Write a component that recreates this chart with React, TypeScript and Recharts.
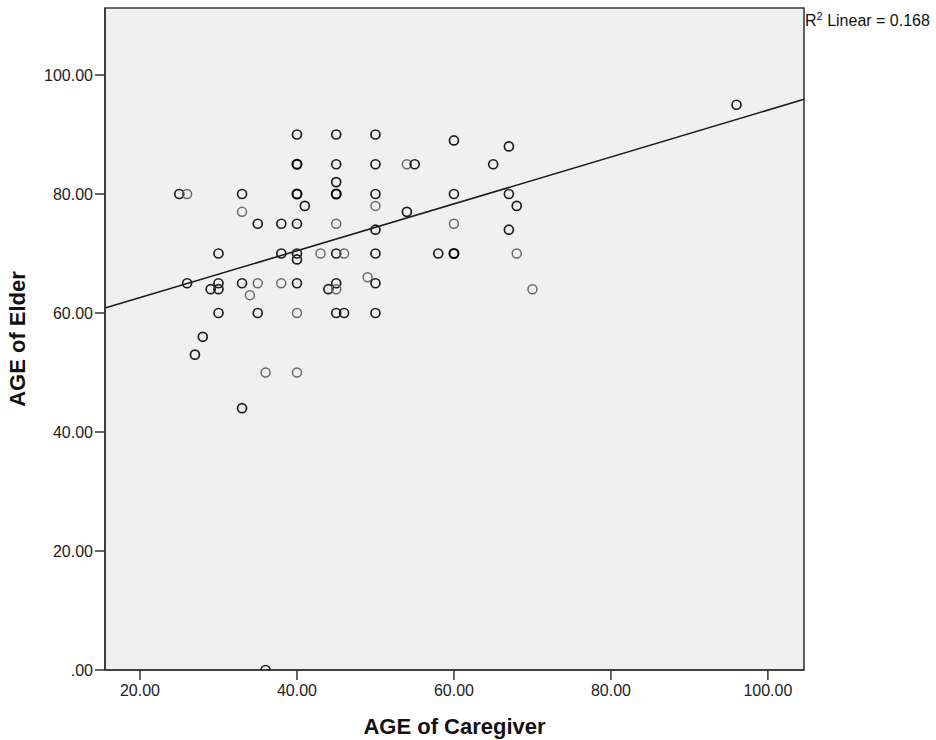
import React from 'react';
import {
  ScatterChart,
  Scatter,
  XAxis,
  YAxis,
  CartesianGrid,
  ReferenceLine,
  ReferenceArea,
  Label,
} from 'recharts';

// Age of caregiver (x) for each plotted marker
const caregiverAge = [
  25, 26, 26, 27, 28, 29, 30, 30, 30, 30,
  33, 33, 33, 33, 34, 35, 35, 35, 36, 36,
  38, 38, 38, 40, 40, 40, 40, 40, 40, 40,
  40, 40, 41, 43, 44, 45, 45, 45, 45, 45,
  45, 45, 45, 45, 46, 46, 49, 50, 50, 50,
  50, 50, 50, 50, 50, 54, 55, 54, 58, 60,
  60, 60, 60, 65, 67, 67, 67, 68, 68, 70,
  96,
];

// Age of elder (y) for each plotted marker
const elderAge = [
  80, 80, 65, 53, 56, 64, 70, 65, 64, 60,
  80, 77, 65, 44, 63, 75, 65, 60, 50, 0,
  75, 70, 65, 90, 85, 80, 75, 70, 69, 65,
  60, 50, 78, 70, 64, 90, 85, 82, 80, 75,
  70, 65, 64, 60, 70, 60, 66, 90, 85, 80,
  78, 74, 70, 65, 60, 85, 85, 77, 70, 89,
  80, 75, 70, 85, 88, 80, 74, 78, 70, 64,
  95,
];

// Number of cases drawn on top of each other at that marker
const overlapCount = [
  2, 1, 2, 2, 2, 2, 2, 2, 2, 2,
  2, 1, 2, 2, 1, 2, 1, 2, 1, 2,
  2, 2, 1, 2, 3, 3, 2, 2, 2, 2,
  1, 1, 2, 1, 2, 2, 2, 2, 3, 1,
  2, 2, 1, 2, 1, 2, 1, 2, 2, 2,
  1, 2, 2, 2, 2, 1, 2, 2, 2, 2,
  2, 1, 3, 2, 2, 2, 2, 2, 1, 1,
  2,
];

const xTicks = [20, 40, 60, 80, 100];
const yTicks = [0, 20, 40, 60, 80, 100];

const X_DOMAIN: [number, number] = [15.54, 104.6];
const Y_DOMAIN: [number, number] = [0, 111.26];

// Fitted linear regression
const REG_INTERCEPT = 54.7;
const REG_SLOPE = 0.394;
const R2_TEXT = '0.168';

const points = caregiverAge.map((x, i) => ({ x, y: elderAge[i], n: overlapCount[i] }));

const FONT = '"Liberation Sans", Arial, sans-serif';

// layout
const W = 936;
const H = 740;
const MARGIN = { top: 8, right: 132, bottom: 0, left: 0 };
const Y_AXIS_W = 105;
const X_AXIS_H = 70;
const PLOT = {
  x: MARGIN.left + Y_AXIS_W,
  y: MARGIN.top,
  w: W - MARGIN.left - MARGIN.right - Y_AXIS_W,
  h: H - MARGIN.top - MARGIN.bottom - X_AXIS_H,
};

const fmt = (v: number) => (v === 0 ? '.00' : v.toFixed(2));

const Ring = (props: any) => {
  const { cx, cy, payload } = props;
  if (cx == null || cy == null) return null;
  const n = payload?.n ?? 1;
  const stroke = n >= 3 ? '#000000' : n === 2 ? '#1e1e1e' : '#6a6a6a';
  const sw = n >= 3 ? 2 : n === 2 ? 1.7 : 1.5;
  return (
    <circle
      cx={cx}
      cy={cy}
      r={4.5}
      fill="none"
      stroke={stroke}
      strokeWidth={sw}
      clipPath="url(#plotAreaClip)"
    />
  );
};

const XTitle = (props: any) => {
  const vb = props.viewBox || {};
  const x = (vb.x ?? PLOT.x) + (vb.width ?? PLOT.w) / 2;
  return (
    <text x={x} y={734} textAnchor="middle" fontFamily={FONT} fontSize={22} fontWeight="bold" fill="#111">
      AGE of Caregiver
    </text>
  );
};

const YTitle = () => {
  const x = 25;
  const y = PLOT.y + PLOT.h / 2;
  return (
    <text
      x={x}
      y={y}
      transform={`rotate(-90 ${x} ${y})`}
      textAnchor="middle"
      fontFamily={FONT}
      fontSize={22}
      fontWeight="bold"
      fill="#111"
    >
      AGE of Elder
    </text>
  );
};

export default function App() {
  const x0 = X_DOMAIN[0];
  const x1 = X_DOMAIN[1];
  return (
    <div style={{ position: 'absolute', left: 0, top: 0, width: W, height: H, background: '#fff' }}>
      <svg width={0} height={0} style={{ position: 'absolute' }}>
        <defs>
          <clipPath id="plotAreaClip">
            <rect x={PLOT.x} y={PLOT.y} width={PLOT.w} height={PLOT.h} />
          </clipPath>
        </defs>
      </svg>
      <ScatterChart width={W} height={H} margin={MARGIN}>
        <CartesianGrid horizontal={false} vertical={false} fill="#f0f0f0" />
        <XAxis
          type="number"
          dataKey="x"
          domain={X_DOMAIN}
          ticks={xTicks}
          tickFormatter={fmt}
          allowDataOverflow
          height={X_AXIS_H}
          tickSize={10}
          tickMargin={5}
          stroke="#333"
          strokeWidth={1.5}
          tick={{ fill: '#222', fontSize: 16, fontFamily: FONT }}
        >
          <Label content={XTitle} />
        </XAxis>
        <YAxis
          type="number"
          dataKey="y"
          domain={Y_DOMAIN}
          ticks={yTicks}
          tickFormatter={fmt}
          allowDataOverflow
          width={Y_AXIS_W}
          tickSize={10}
          tickMargin={2}
          stroke="#333"
          strokeWidth={1.5}
          tick={{ fill: '#222', fontSize: 16, fontFamily: FONT }}
        >
          <Label content={YTitle} />
        </YAxis>
        <ReferenceArea
          x1={x0}
          x2={x1}
          y1={Y_DOMAIN[0]}
          y2={Y_DOMAIN[1]}
          fill="none"
          stroke="#3a3a3a"
          strokeWidth={1.6}
          ifOverflow="visible"
        />
        <Scatter data={points} shape={Ring} isAnimationActive={false} />
        <ReferenceLine
          segment={[
            { x: x0, y: REG_INTERCEPT + REG_SLOPE * x0 },
            { x: x1, y: REG_INTERCEPT + REG_SLOPE * x1 },
          ]}
          stroke="#1a1a1a"
          strokeWidth={1.6}
          ifOverflow="visible"
        />
      </ScatterChart>
      <div
        style={{
          position: 'absolute',
          left: 805,
          top: 12,
          fontFamily: FONT,
          fontSize: 16,
          color: '#111',
          whiteSpace: 'nowrap',
          lineHeight: '18px',
        }}
      >
        R<sup style={{ fontSize: 11, verticalAlign: 'super', lineHeight: 0 }}>2</sup> Linear = {R2_TEXT}
      </div>
    </div>
  );
}
